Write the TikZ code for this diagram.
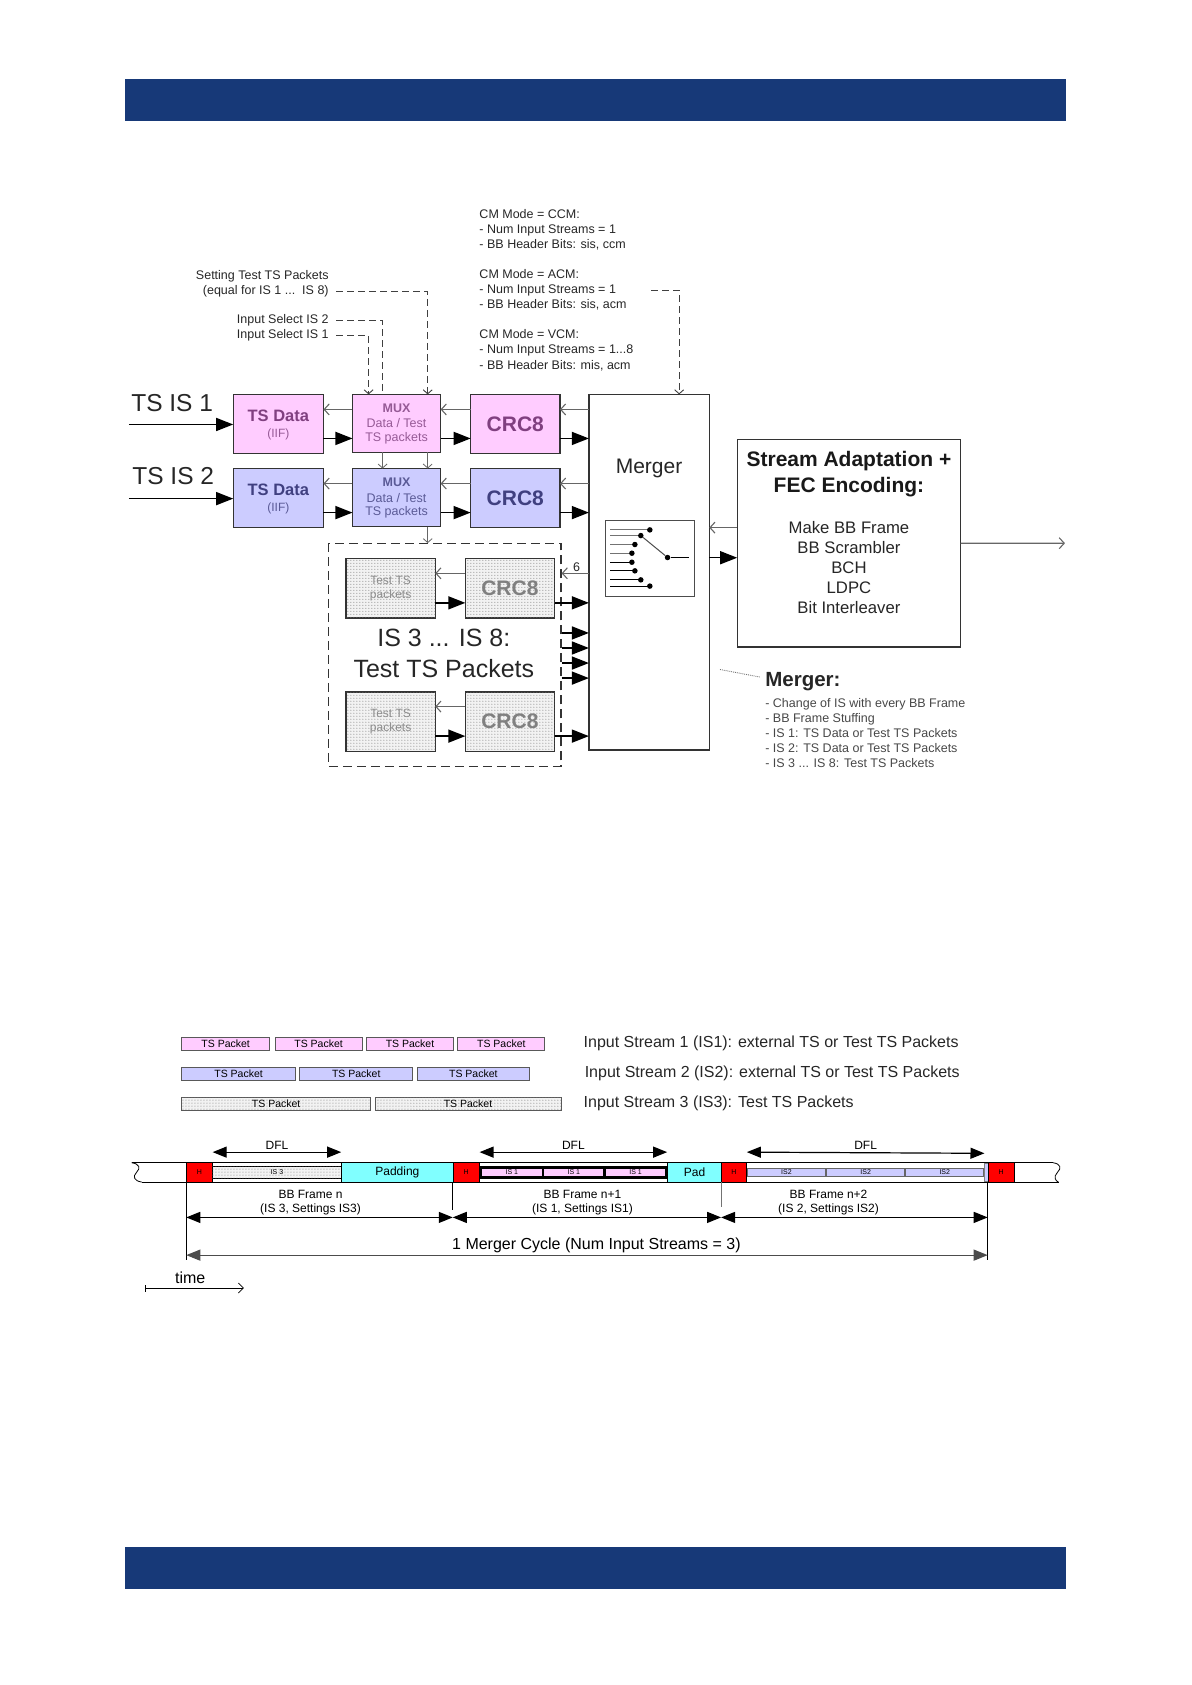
\documentclass[tikz,border=0pt]{standalone}
\usepackage{fontspec}
\setmainfont{Liberation Sans}
\usetikzlibrary{arrows.meta,calc,fit,patterns}
\definecolor{hdr}{RGB}{23,57,120}
\definecolor{pinkf}{RGB}{255,204,255}
\definecolor{bluef}{RGB}{204,204,255}
\definecolor{pinkt}{RGB}{128,64,128}
\definecolor{bluet}{RGB}{64,64,128}
\definecolor{pinkm}{RGB}{150,90,150}
\definecolor{bluem}{RGB}{90,90,150}
\definecolor{cyanf}{RGB}{128,255,255}
\definecolor{redf}{RGB}{255,0,0}
\newcommand{\fz}[2]{\fontsize{#1}{#2}\selectfont}
\tikzset{
  blk/.style={draw=black!80, line width=1.3pt, inner sep=0pt, outer sep=0pt},
  pinkbox/.style={blk, fill=pinkf},
  bluebox/.style={blk, fill=bluef},
  dotfill/.style={fill=gray!10, postaction={pattern=dots, pattern color=black!55}},
  dotbox/.style={blk, dotfill},
  plainbox/.style={blk, fill=white},
  fwd/.style={draw=black, line width=1.5pt, -{Triangle[length=17pt,width=13pt]}},
  back/.style={draw=black!60, line width=1.1pt, -{Straight Barb[length=5pt,width=11pt]}},
  sig/.style={draw=black!60, line width=0.8pt, -{Straight Barb[length=4pt,width=9pt]}},
  ctrl/.style={draw=black!75, line width=0.9pt, dash pattern=on 7pt off 4pt},
  chead/.style={-{Straight Barb[length=4pt,width=9pt]}},
  dbl/.style={draw=black, line width=1.2pt, {Triangle[length=14pt,width=11pt]}-{Triangle[length=14pt,width=11pt]}},
  txt/.style={inner sep=0pt, text=black!85},
  pkt/.style={draw=black!65, line width=0.8pt, inner sep=0pt},
  pktxt/.style={inner sep=0pt, font=\fz{10.5}{12}},
  tiny/.style={inner sep=0pt, font=\fz{7}{8}},
  tl/.style={draw=black, line width=0.8pt, inner sep=0pt},
  swdot/.style={fill=black, circle, inner sep=0pt, minimum size=5.5pt},
}
\begin{document}
\begin{tikzpicture}[x=1.0749pt, y=-1.0749pt]
\useasboundingbox (0,0) rectangle (1109,1568);
% header / footer bars
\fill[hdr] (116.3,73.5) rectangle (991.7,112.6);
\fill[hdr] (116.3,1439.2) rectangle (991.7,1478.3);

% ---------- top texts
\node[txt, anchor=north west, align=left, font=\fz{12.5}{15.05}] (ccm) at (446,194.8)
  {CM Mode = CCM:\\- Num Input Streams = 1\\- BB Header Bits: sis, ccm};
\node[txt, anchor=north west, align=left, font=\fz{12.5}{15.05}] (acm) at (446,250.8)
  {CM Mode = ACM:\\- Num Input Streams = 1\\- BB Header Bits: sis, acm};
\node[txt, anchor=north west, align=left, font=\fz{12.5}{15.05}] (vcm) at (446,306.8)
  {CM Mode = VCM:\\- Num Input Streams = 1...8\\- BB Header Bits: mis, acm};
\node[txt, anchor=north east, align=right, font=\fz{12.5}{15.05}] (set) at (306,251.5)
  {Setting Test TS Packets\\(equal for IS 1 ...\ \ IS 8)};
\node[txt, anchor=east, font=\fz{12.5}{15.05}] (sel2) at (306,298) {Input Select IS 2};
\node[txt, anchor=east, font=\fz{12.5}{15.05}] (sel1) at (306,312) {Input Select IS 1};

\node[txt, anchor=west, font=\fz{24.5}{29}] (tsis1) at (122,375) {TS IS 1};
\node[txt, anchor=west, font=\fz{24.5}{29}] (tsis2) at (123,443) {TS IS 2};

% ---------- boxes
\node[pinkbox, fit={(217,367) (301,422)}] (tsd1) {};
\node[pinkbox, fit={(328,367) (410,421)}] (mux1) {};
\node[pinkbox, fit={(438,367) (521,422)}] (crc1) {};
\node[bluebox, fit={(217,436) (301,491)}] (tsd2) {};
\node[bluebox, fit={(328,436) (410,490)}] (mux2) {};
\node[bluebox, fit={(438,436) (521,491)}] (crc2) {};
\node[plainbox, fit={(548,367) (660,698)}] (merger) {};
\node[plainbox, draw=black!70, line width=1pt, fit={(563,484) (646,555)}] (swbox) {};
\node[plainbox, fit={(686,409) (894,602)}] (sa) {};
\node[draw=black!80, line width=1.3pt, dash pattern=on 9pt off 5pt, inner sep=0pt, fit={(306,506) (522,713)}] (dbox) {};
\node[dotbox, fit={(322,520) (405,575)}] (tp1) {};
\node[dotbox, fit={(433,520) (516,575)}] (crc3) {};
\node[dotbox, fit={(322,644) (405,699)}] (tp2) {};
\node[dotbox, fit={(433,644) (516,699)}] (crc4) {};

% box texts
\node[inner sep=0pt, font=\fz{16.5}{19}\bfseries, text=pinkt] (tsd1a) at ($(tsd1.center)+(0,-7.5)$) {TS Data};
\node[inner sep=0pt, font=\fz{12}{14}, text=pinkm] (tsd1b) at ($(tsd1.center)+(0,9.5)$) {(IIF)};
\node[inner sep=0pt, font=\fz{16.5}{19}\bfseries, text=bluet] (tsd2a) at ($(tsd2.center)+(0,-7.5)$) {TS Data};
\node[inner sep=0pt, font=\fz{12}{14}, text=bluem] (tsd2b) at ($(tsd2.center)+(0,9.5)$) {(IIF)};
\node[inner sep=0pt, font=\fz{12.5}{15}\bfseries, text=pinkm] (mux1a) at ($(mux1.center)+(0,-14)$) {MUX};
\node[inner sep=0pt, font=\fz{12.5}{15}, text=pinkm] (mux1b) at (mux1.center) {Data / Test};
\node[inner sep=0pt, font=\fz{12.5}{15}, text=pinkm] (mux1c) at ($(mux1.center)+(0,14)$) {TS packets};
\node[inner sep=0pt, font=\fz{12.5}{15}\bfseries, text=bluem] (mux2a) at ($(mux2.center)+(0,-14)$) {MUX};
\node[inner sep=0pt, font=\fz{12.5}{15}, text=bluem] (mux2b) at (mux2.center) {Data / Test};
\node[inner sep=0pt, font=\fz{12.5}{15}, text=bluem] (mux2c) at ($(mux2.center)+(0,14)$) {TS packets};
\node[inner sep=0pt, font=\fz{21}{24}\bfseries, text=pinkt] (crc1a) at (crc1.center) {CRC8};
\node[inner sep=0pt, font=\fz{21}{24}\bfseries, text=bluet] (crc2a) at (crc2.center) {CRC8};
\node[inner sep=0pt, font=\fz{21}{24}\bfseries, text=black!50] (crc3a) at (crc3.center) {CRC8};
\node[inner sep=0pt, font=\fz{21}{24}\bfseries, text=black!50] (crc4a) at (crc4.center) {CRC8};
\node[inner sep=0pt, font=\fz{12}{14}, text=black!45, align=center] (tp1a) at (tp1.center) {Test TS\\packets};
\node[inner sep=0pt, font=\fz{12}{14}, text=black!45, align=center] (tp2a) at (tp2.center) {Test TS\\packets};
\node[inner sep=0pt, font=\fz{21}{24}, text=black!85] (mergerT) at (604,436) {Merger};
\node[inner sep=0pt, font=\fz{25}{30.1}, text=black!85, align=center] (is38) at (413,608) {IS 3 ... IS 8:\\Test TS Packets};
\node[inner sep=0pt, font=\fz{21}{25.8}\bfseries, text=black!90, align=center] (saT) at (790,441) {Stream Adaptation +\\FEC Encoding:};
\node[inner sep=0pt, font=\fz{16.7}{19.9}, text=black!85, align=center] (saL) at (790,528) {Make BB Frame\\BB Scrambler\\BCH\\LDPC\\Bit Interleaver};

% merger notes
\node[txt, anchor=west, font=\fz{20.5}{24}\bfseries] (mtitle) at (712,634) {Merger:};
\node[txt, anchor=north west, align=left, font=\fz{12.5}{15.05}, text=black!72] (mnotes) at (712,649.8)
  {- Change of IS with every BB Frame\\- BB Frame Stuffing\\- IS 1: TS Data or Test TS Packets\\- IS 2: TS Data or Test TS Packets\\- IS 3 ... IS 8: Test TS Packets};
\coordinate (callA) at (670,623);
\draw[black!55, line width=0.9pt, densely dotted] (callA) -- ($(mtitle.west)+(-5,-4)$);

% ---------- control (dashed) lines
\draw[ctrl, chead] ($(set.east)+(7,7)$) -| ($(mux1.north east)+(-12,0)$);
\draw[ctrl] ($(sel2.east)+(7,0)$) -| ($(mux1.north west)+(28,0)$);
\draw[ctrl, chead] ($(sel1.east)+(7,0)$) -| ($(mux1.north west)+(15,0)$);
\draw[ctrl, chead] ($(acm.east)+(23,0)$) -| ($(merger.north west)+(84,0)$);

\coordinate (m1a) at ($(mux1.south west)+(28,0)$);
\coordinate (m1b) at ($(mux1.south east)+(-12,0)$);
\coordinate (m2b) at ($(mux2.south east)+(-12,0)$);
\draw[sig] (m1a) -- (m1a |- mux2.north);
\draw[sig] (m1b) -- (m1b |- mux2.north);
\draw[sig] (m2b) -- (m2b |- dbox.north);

% ---------- row connectors
\coordinate (r1b) at ($(crc1.east)+(0,-13.5)$);
\coordinate (r1f) at ($(crc1.east)+(0,13.5)$);
\coordinate (r2b) at ($(crc2.east)+(0,-13.5)$);
\coordinate (r2f) at ($(crc2.east)+(0,13.5)$);
\coordinate (in1) at (120,395);
\coordinate (in2) at (120,464);
\foreach \b/\f/\t/\m/\c in {r1b/r1f/tsd1/mux1/crc1, r2b/r2f/tsd2/mux2/crc2}{
  \draw[back] (merger.west |- \b) -- (\b);
  \draw[back] (\c.west |- \b) -- (\m.east |- \b);
  \draw[back] (\m.west |- \b) -- (\t.east |- \b);
  \draw[fwd] (\t.east |- \f) -- (\m.west |- \f);
  \draw[fwd] (\m.east |- \f) -- (\c.west |- \f);
  \draw[fwd] (\f) -- (merger.west |- \f);
}
\draw[fwd] (in1) -- (tsd1.west |- in1);
\draw[fwd] (in2) -- (tsd2.west |- in2);

% dashed area connectors
\coordinate (r3b) at ($(crc3.east)+(0,-14)$);
\coordinate (r3f) at ($(crc3.east)+(0,13.5)$);
\coordinate (r4b) at ($(crc4.east)+(0,-14)$);
\coordinate (r4f) at ($(crc4.east)+(0,13.5)$);
\draw[back] (merger.west |- r3b) -- node[pos=0.45, above=1.5pt, inner sep=0pt, font=\fz{12.5}{15}, text=black!85] (six) {6} (dbox.east |- r3b);
\draw[back] (crc3.west |- r3b) -- (tp1.east |- r3b);
\draw[fwd] (tp1.east |- r3f) -- (crc3.west |- r3f);
\draw[fwd] (r3f) -- (merger.west |- r3f);
\draw[back] (crc4.west |- r4b) -- (tp2.east |- r4b);
\draw[fwd] (tp2.east |- r4f) -- (crc4.west |- r4f);
\draw[fwd] (r4f) -- (merger.west |- r4f);
\foreach \yy in {589,603,617,631}{
  \coordinate (st) at (522,\yy);
  \draw[fwd] (dbox.east |- st) -- (merger.west |- st);
}

% merger <-> stream adaptation
\coordinate (sab) at ($(sa.west)+(0,-14.5)$);
\coordinate (saf) at ($(sa.west)+(0,13.5)$);
\coordinate (out) at (991,505.5);
\draw[back] (sab) -- (merger.east |- sab);
\draw[fwd] (merger.east |- saf) -- (saf);
\draw[back] (sa.east) -- (out);

% switch symbol
\foreach \px/\py/\cc [count=\i] in {604.7/493.1/black!55, 596.3/498.4/black!55, 590.8/506.7/black!55, 588/514.8/black!55, 588/523.2/black, 590.8/531.2/black, 596.3/539.6/black, 604.7/545.4/black}{
  \draw[\cc, line width=1pt] (568.1,\py) -- (\px,\py);
  \node[swdot] (sw\i) at (\px,\py) {};
}
\node[swdot] (piv) at (621.2,518.8) {};
\draw[black!70, line width=1pt] (sw2) -- (piv);
\draw[black, line width=1pt] (piv) -- (640.7,518.8);

% ---------- bottom: packet streams
\foreach \a/\b [count=\i] in {169/251, 256/337, 341/422, 426/507}{
  \node[pkt, fill=pinkf, fit={(\a,965) (\b,977)}] (pa\i) {};
  \node[pktxt] (pat\i) at (pa\i.center) {TS Packet};
}
\foreach \a/\b [count=\i] in {169/275, 279/384, 388/493}{
  \node[pkt, fill=bluef, fit={(\a,993) (\b,1005)}] (pb\i) {};
  \node[pktxt] (pbt\i) at (pb\i.center) {TS Packet};
}
\foreach \a/\b [count=\i] in {169/345, 349/522}{
  \node[pkt, dotfill, fit={(\a,1021) (\b,1033)}] (pc\i) {};
  \node[pktxt] (pct\i) at (pc\i.center) {TS Packet};
}
\node[txt, anchor=west, font=\fz{16}{19}] (lab1) at (543,971) {Input Stream 1 (IS1): external TS or Test TS Packets};
\node[txt, anchor=west, font=\fz{16}{19}] (lab2) at (544,999) {Input Stream 2 (IS2): external TS or Test TS Packets};
\node[txt, anchor=west, font=\fz{16}{19}] (lab3) at (543,1027) {Input Stream 3 (IS3): Test TS Packets};

% ---------- timeline strip
\draw[line width=0.8pt] (122.5,1082) -- (980,1082);
\draw[line width=0.8pt] (132,1100) -- (985,1100);
\draw[line width=0.8pt] (122.5,1082) .. controls (130,1083) and (131,1087) .. (127,1091) .. controls (123,1095) and (125,1099) .. (132,1100);
\draw[line width=0.8pt] (980,1082) .. controls (987,1083) and (988,1087) .. (984,1091) .. controls (980,1095) and (982,1099) .. (985,1100);

\node[tl, fill=redf, fit={(173.7,1082) (197.5,1100)}] (h1) {};
\node[tl, dotfill, fit={(197.5,1085.4) (317.9,1096.2)}] (is3) {};
\node[tl, fill=cyanf, fit={(317.9,1082) (421.7,1100)}] (pad1) {};
\node[tl, fill=redf, fit={(421.7,1082) (445.9,1100)}] (h2) {};
\node[tl, fill=black, fit={(445.9,1085.4) (621.2,1096.2)}] (is1seg) {};
\foreach \a/\b [count=\i] in {448.5/504, 506.5/561.5, 564/619}{
  \node[inner sep=0pt, fill=pinkf, fit={(\a,1087.8) (\b,1094.2)}] (is1p\i) {};
  \node[tiny] (is1t\i) at (is1p\i.center) {IS 1};
}
\node[tl, fill=cyanf, fit={(621.2,1082) (671.4,1100)}] (pad2) {};
\node[tl, fill=redf, fit={(671.4,1082) (694.6,1100)}] (h3) {};
\foreach \a/\b [count=\i] in {695.6/768.1, 769.1/842, 842.9/915.4}{
  \node[draw=black!60, line width=0.8pt, inner sep=0pt, fill=bluef, fit={(\a,1087) (\b,1094.7)}] (is2p\i) {};
  \node[tiny] (is2t\i) at (is2p\i.center) {IS2};
}
\node[draw=black!50, line width=0.6pt, inner sep=0pt, fill=bluef, fit={(916.4,1082.5) (919.5,1099.5)}] (bar) {};
\node[tl, fill=redf, fit={(919.5,1082) (943.6,1100)}] (h4) {};
\foreach \n in {h1,h2,h3,h4}{ \node[tiny] (\n t) at (\n.center) {H}; }
\node[tiny] (is3t) at (is3.center) {IS 3};
\node[inner sep=0pt, font=\fz{12}{14}] (pad1t) at (pad1.center) {Padding};
\node[inner sep=0pt, font=\fz{12}{14}] (pad2t) at (pad2.center) {Pad};

% DFL arrows
\coordinate (dA1) at ($(h1.north east)+(0,-9.5)$);
\coordinate (dB1) at ($(pad1.north west)+(0,-9.5)$);
\coordinate (dA2) at ($(h2.north east)+(0,-9.5)$);
\coordinate (dB2) at ($(pad2.north west)+(0,-9.5)$);
\coordinate (dA3) at ($(h3.north east)+(0,-9.5)$);
\coordinate (dB3) at ($(bar.north west)+(0,-9)$);
\draw[dbl] (dA1) -- node[above=2.5pt, inner sep=0pt, font=\fz{12}{14}] (dfl1) {DFL} (dB1);
\draw[dbl] (dA2) -- node[above=2.5pt, inner sep=0pt, font=\fz{12}{14}] (dfl2) {DFL} (dB2);
\draw[dbl] (dA3) -- node[above=2.5pt, inner sep=0pt, font=\fz{12}{14}] (dfl3) {DFL} (dB3);

% frame boundaries
\draw[line width=0.8pt] (h1.south west) -- ++(0,72);
\draw[line width=0.8pt] (h2.south west) -- ++(0,26);
\draw[black!55, line width=0.6pt] (h3.south west) -- ++(0,23);
\draw[line width=0.8pt] (h4.south west) -- ++(0,72);

\coordinate (f1) at ($(h1.south west)+(0,32.5)$);
\coordinate (f2) at ($(h2.south west)+(0,32.5)$);
\coordinate (f3) at ($(h3.south west)+(0,32.5)$);
\coordinate (f4) at ($(h4.south west)+(0,32.5)$);
\draw[dbl] (f1) -- (f2);
\draw[dbl] (f2) -- (f3);
\draw[dbl] (f3) -- (f4);
\node[inner sep=0pt, font=\fz{12}{14}] (bbn1) at (289,1111.5) {BB Frame n};
\node[inner sep=0pt, font=\fz{12}{14}] (bbn2) at (289,1125.5) {(IS 3, Settings IS3)};
\node[inner sep=0pt, font=\fz{12}{14}] (bbm1) at (542,1111.5) {BB Frame n+1};
\node[inner sep=0pt, font=\fz{12}{14}] (bbm2) at (542,1125.5) {(IS 1, Settings IS1)};
\node[inner sep=0pt, font=\fz{12}{14}] (bbk1) at (771,1111.5) {BB Frame n+2};
\node[inner sep=0pt, font=\fz{12}{14}] (bbk2) at (771,1125.5) {(IS 2, Settings IS2)};

\coordinate (c1) at ($(h1.south west)+(0,67.6)$);
\coordinate (c4) at ($(h4.south west)+(0,67.6)$);
\draw[dbl, draw=black!70] (c1) -- (c4);
\node[inner sep=0pt, font=\fz{16}{19}] (cyc) at (555,1158.5) {1 Merger Cycle (Num Input Streams = 3)};

% time arrow
\node[inner sep=0pt, font=\fz{16}{19}] (time) at (177,1189.5) {time};
\coordinate (t0) at (134.9,1198.6);
\coordinate (t1) at (227,1198.6);
\draw[line width=0.8pt, {Bar[width=7pt]}-{Straight Barb[length=5pt,width=10pt]}] (t0) -- (t1);
\end{tikzpicture}
\end{document}
